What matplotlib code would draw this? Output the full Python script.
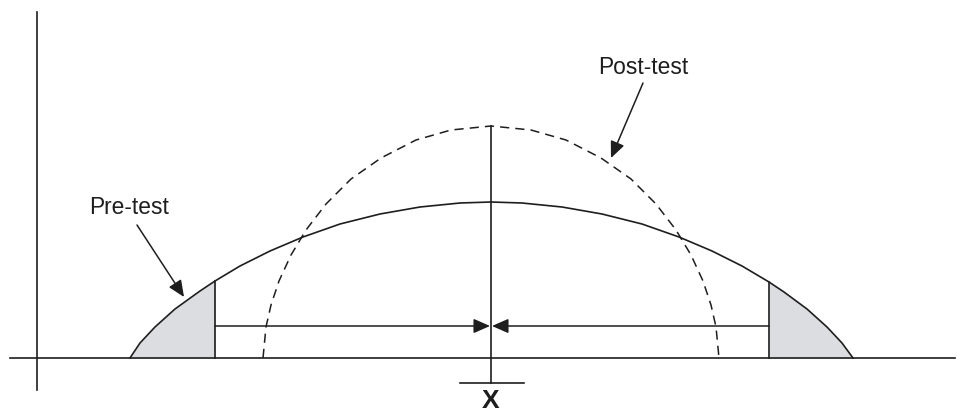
import numpy as np
import matplotlib
matplotlib.use("Agg")
import matplotlib.pyplot as plt

# schematic: x in px, height above baseline in px
pre_x = [130, 140, 155, 175, 200, 215, 240, 270, 303, 340, 380, 420, 460, 491,
         522, 562, 602, 642, 679, 712, 742, 769, 784, 807, 827, 842, 853]
pre_h = [0, 15, 31, 49, 67, 77, 92, 107, 121, 134, 144, 151, 155, 156,
         155, 151, 144, 134, 121, 107, 92, 76, 66, 49, 31, 15, 0]

post_x = [263, 266, 271, 279, 291, 306, 326, 351, 381, 416, 451, 491,
          531, 566, 601, 631, 656, 676, 691, 703, 711, 716, 719]
post_h = [0, 31, 53, 77, 103, 128, 154, 179, 200, 218, 228, 232,
          228, 218, 200, 179, 154, 128, 103, 77, 53, 31, 0]

centre = 491
cut_left, cut_right = 215, 769
cut_h_left, cut_h_right = 77, 76
arrow_h = 32

ink = '#1e1e1e'
shade = '#dcdde0'

fig = plt.figure(figsize=(9.65, 4.13), dpi=100)
ax = fig.add_axes([0, 0, 1, 1])
ax.set_xlim(0, 965)
ax.set_ylim(-55, 358)
ax.axis('off')

px = np.array(pre_x)
ph = np.array(pre_h)

## shaded tails
m = px <= cut_left
ax.fill_between(px[m], 0, ph[m], color=shade, lw=0)
m = px >= cut_right
ax.fill_between(px[m], 0, ph[m], color=shade, lw=0)

## axes lines
ax.plot([37, 37], [346, -32], color=ink, lw=1.2)
ax.plot([10, 955], [0, 0], color=ink, lw=1.2)

## curves
ax.plot(pre_x, pre_h, color=ink, lw=1.2)
ax.plot(post_x, post_h, color=ink, lw=1.1, ls=(0, (6.0, 4.0)))

## centre line and bar
ax.plot([centre, centre], [max(post_h), -25], color=ink, lw=1.2)
ax.plot([460, 524], [-25, -25], color=ink, lw=1.2)

## cut-off lines
ax.plot([cut_left, cut_left], [0, cut_h_left], color=ink, lw=1.2)
ax.plot([cut_right, cut_right], [0, cut_h_right], color=ink, lw=1.2)

arrow = dict(arrowstyle='-|>,head_length=0.5,head_width=0.22', color=ink,
             lw=1.1, shrinkA=0, shrinkB=0, mutation_scale=20)
ax.annotate('', xy=(centre - 1, arrow_h), xytext=(cut_left, arrow_h), arrowprops=arrow)
ax.annotate('', xy=(centre + 1, arrow_h), xytext=(cut_right, arrow_h), arrowprops=arrow)

## labels
ax.annotate('', xy=(184, 61), xytext=(137, 133), arrowprops=arrow)
ax.annotate('', xy=(611, 200), xytext=(643, 275), arrowprops=arrow)
ax.text(129, 151, 'Pre-test', fontsize=16.4, family='Liberation Sans',
        ha='center', va='center', color=ink)
ax.text(643, 291, 'Post-test', fontsize=16.4, family='Liberation Sans',
        ha='center', va='center', color=ink)
ax.text(centre, -43, 'X', fontsize=19, family='Liberation Sans', weight='bold',
        ha='center', va='center', color=ink)

plt.savefig('out.png', dpi=100)
